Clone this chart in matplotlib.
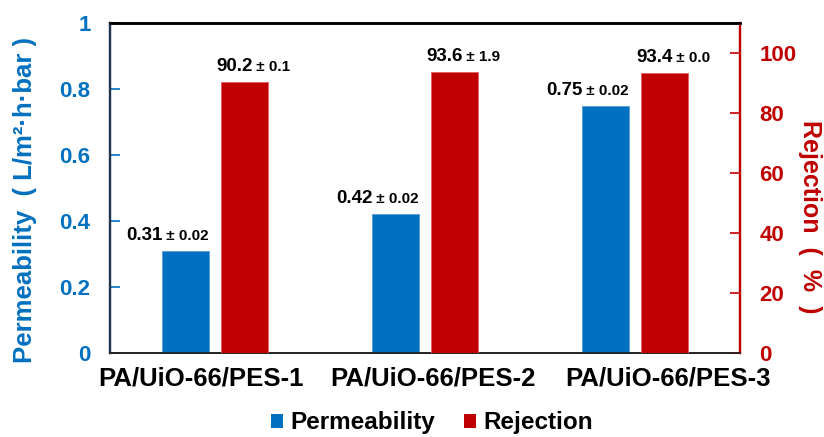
import matplotlib
matplotlib.use("Agg")
import matplotlib.pyplot as plt
import numpy as np
from matplotlib.offsetbox import TextArea, HPacker, AnnotationBbox
from matplotlib.patches import Patch

plt.rcParams['font.family'] = ['Liberation Sans', 'DejaVu Sans']
plt.rcParams['font.weight'] = 'bold'

# data
samples = ["PA/UiO-66/PES-1", "PA/UiO-66/PES-2", "PA/UiO-66/PES-3"]
permeability = [0.31, 0.42, 0.75]
perm_err = ["0.02", "0.02", "0.02"]
rejection = [90.2, 93.6, 93.4]
rej_err = ["0.1", "1.9", "0.0"]

BLUE = "#0070C0"
RED = "#C00000"

fig = plt.figure(figsize=(8.24, 4.37), dpi=100)
ax = fig.add_axes([110 / 824, 1 - 353 / 437, 630 / 824, 330 / 437])
ax2 = ax.twinx()

x = np.arange(len(samples))
w = 0.224
off = 0.14

ax.bar(x - off, permeability, w, color=BLUE, edgecolor="#5b9bd5", linewidth=0.6, zorder=3)
ax2.bar(x + off, rejection, w, color=RED, edgecolor="#e06060", linewidth=0.6, zorder=3)

ax.set_xlim(-0.5, 2.5)
ax.set_ylim(0, 1)
ax2.set_ylim(0, 110)
ax.set_yticks(np.arange(0, 1.01, 0.2))
ax.set_yticklabels(["0", "0.2", "0.4", "0.6", "0.8", "1"])
ax2.set_yticks(np.arange(0, 101, 20))
ax.set_xticks(x)
ax.set_xticklabels([])

# category labels, spread a little wider than the bar groups
for i, dx in zip(range(len(samples)), [-10, 6, 24]):
    ax.annotate(samples[i], (x[i], 0), xycoords=('data', 'axes fraction'),
                xytext=(dx, -10), textcoords='offset points',
                ha='center', va='top', fontsize=18.5, fontweight='bold')

ax.tick_params(axis='x', length=0)
ax.tick_params(axis='y', direction='in', length=7, width=1.2, colors=BLUE,
               labelsize=16, pad=14)
ax2.tick_params(axis='y', direction='in', length=7, width=1.2, colors=RED,
                labelsize=16, pad=14)
for lab in ax.get_yticklabels() + ax2.get_yticklabels():
    lab.set_fontweight('bold')

for a in (ax, ax2):
    a.spines['top'].set_color('black')
    a.spines['top'].set_linewidth(1.8)
    a.spines['bottom'].set_color('#222222')
    a.spines['bottom'].set_linewidth(1.2)
    a.spines['left'].set_color('#1f3550')
    a.spines['left'].set_linewidth(1.6)
    a.spines['right'].set_color(RED)
    a.spines['right'].set_linewidth(1.6)


def label(axis, xpos, ypos, num, err, align, dx):
    t1 = TextArea(num, textprops=dict(fontsize=13.5, fontweight='bold', color='black'))
    t2 = TextArea(" \u00b1 " + err, textprops=dict(fontsize=11, fontweight='bold', color='black'))
    box = HPacker(children=[t1, t2], align="baseline", pad=0, sep=0)
    ab = AnnotationBbox(box, (xpos, ypos), xycoords='data',
                        xybox=(dx, 5), boxcoords='offset points',
                        box_alignment=align, frameon=False, pad=0)
    axis.add_artist(ab)


for i in range(len(samples)):
    label(ax, x[i] - off + w / 2, permeability[i], f"{permeability[i]:.2f}", perm_err[i], (1, 0), 0)
    label(ax2, x[i] + off - w / 2, rejection[i], f"{rejection[i]:.1f}", rej_err[i], (0, 0), -3.5)

fig.text(25 / 824, 1 - 200 / 437, "Permeability  ( L/m\u00b2\u00b7h\u00b7bar )", rotation=90,
         color=BLUE, fontsize=18.5, fontweight='bold', ha='center', va='center')
fig.text(810 / 824, 1 - 217 / 437, "Rejection  (  %  )", rotation=270,
         color=RED, fontsize=18, fontweight='bold', ha='center', va='center')

handles = [Patch(facecolor=BLUE, label="Permeability"),
           Patch(facecolor=RED, label="Rejection")]
fig.legend(handles=handles, loc='center', bbox_to_anchor=(432 / 824, 14 / 437), ncol=2,
           frameon=False, prop=dict(size=17.5, weight='bold'),
           handlelength=0.5, handleheight=0.5, handletextpad=0.3, columnspacing=1.2,
           borderpad=0.2)

fig.savefig("out.png", dpi=100)
